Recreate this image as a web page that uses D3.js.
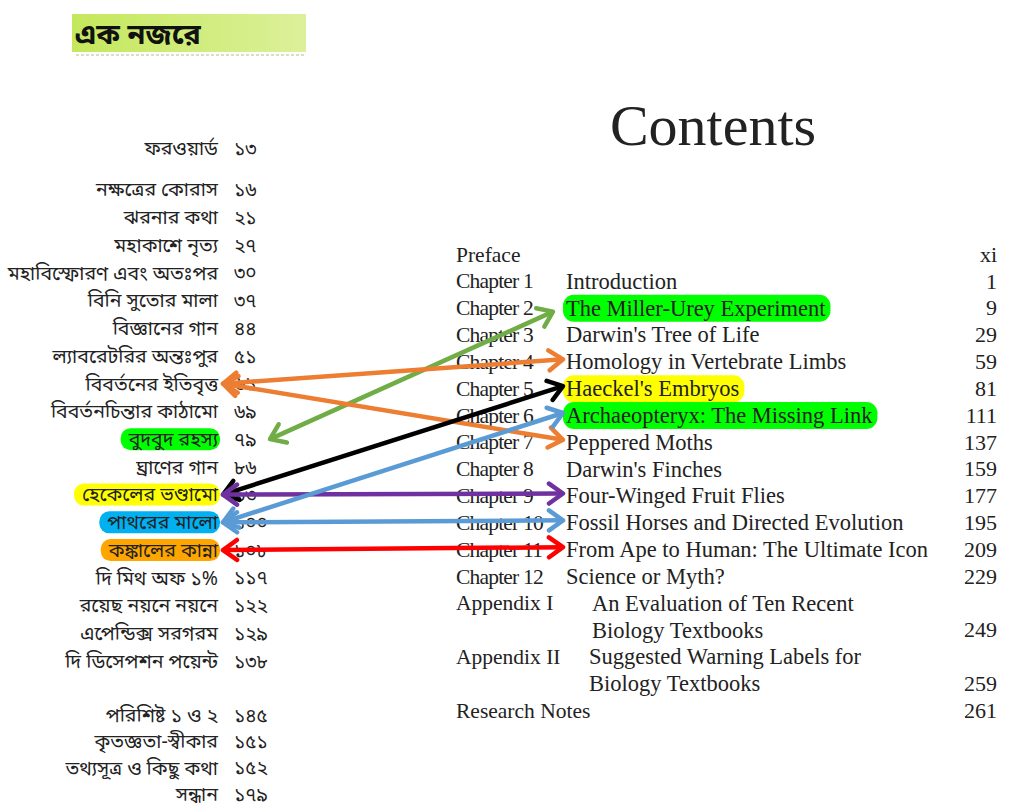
<!DOCTYPE html>
<html>
<head>
<meta charset="utf-8">
<script src="https://cdn.jsdelivr.net/npm/d3@7"></script>
<style>
  body { margin: 0; background: #fff; }
  svg { display: block; }
  .bn { font-family: "Noto Sans Bengali", "Lohit Bengali", "FreeSans", "Noto Sans", sans-serif; }
  .en { font-family: "Liberation Serif", "Times New Roman", serif; }
</style>
</head>
<body>
<svg id="chart" width="1024" height="809"></svg>
<script>
// --- DATOS ---
// Bengali table of contents (slot = row position, gaps between groups)
const leftTitles = [
  "ফরওয়ার্ড", "নক্ষত্রের কোরাস", "ঝরনার কথা", "মহাকাশে নৃত্য", "মহাবিস্ফোরণ এবং অতঃপর",
  "বিনি সুতোর মালা", "বিজ্ঞানের গান", "ল্যাবরেটরির অন্তঃপুর", "বিবর্তনের ইতিবৃত্ত",
  "বিবর্তনচিন্তার কাঠামো", "বুদবুদ রহস্য", "ঘ্রাণের গান", "হেকেলের ভণ্ডামো", "পাথরের মালো",
  "কঙ্কালের কান্না", "দি মিথ অফ ১%", "রয়েছ নয়নে নয়নে", "এপেন্ডিক্স সরগরম",
  "দি ডিসেপশন পয়েন্ট", "পরিশিষ্ট ১ ও ২", "কৃতজ্ঞতা-স্বীকার", "তথ্যসূত্র ও কিছু কথা", "সন্ধান"
];
const leftPages = [
  "১৩", "১৬", "২১", "২৭", "৩০", "৩৭", "৪৪", "৫১", "৬১", "৬৯", "৭৯", "৮৬", "৯৩", "১০০",
  "১০৮", "১১৭", "১২২", "১২৯", "১৩৮", "১৪৫", "১৫১", "১৫২", "১৭৯"
];
const leftSlots = [0, 1.5, 2.5, 3.5, 4.5, 5.5, 6.5, 7.5, 8.5, 9.5, 10.5, 11.5, 12.5, 13.5,
  14.5, 15.5, 16.5, 17.5, 18.5, 20.45, 21.4, 22.35, 23.3];
const leftHighlight = { 10: "#00ff00", 12: "#ffff00", 13: "#00b0f0", 14: "#ffa500" };

// English contents (one entry per printed line)
const rightLabels = ["Preface", "Chapter 1", "Chapter 2", "Chapter 3", "Chapter 4", "Chapter 5",
  "Chapter 6", "Chapter 7", "Chapter 8", "Chapter 9", "Chapter 10", "Chapter 11", "Chapter 12",
  "Appendix I", "", "Appendix II", "", "Research Notes"];
const rightTitles = ["", "Introduction", "The Miller-Urey Experiment", "Darwin's Tree of Life",
  "Homology in Vertebrate Limbs", "Haeckel's Embryos", "Archaeopteryx: The Missing Link",
  "Peppered Moths", "Darwin's Finches", "Four-Winged Fruit Flies",
  "Fossil Horses and Directed Evolution", "From Ape to Human: The Ultimate Icon",
  "Science or Myth?", "An Evaluation of Ten Recent", "Biology Textbooks",
  "Suggested Warning Labels for", "Biology Textbooks", ""];
const rightPages = ["xi", "1", "9", "29", "59", "81", "111", "137", "159", "177", "195", "209",
  "229", "", "249", "", "259", "261"];
const rightHighlight = { 2: "#00ff00", 5: "#ffff00", 6: "#00ff00" };

// Connections: left row index -> right row index
const links = [
  { from: 10, to: 2,  color: "#70ad47", end: "page" },
  { from: 8,  to: 4,  color: "#ed7d31", end: "title" },
  { from: 8,  to: 7,  color: "#ed7d31", end: "title" },
  { from: 12, to: 5,  color: "#000000", end: "title" },
  { from: 12, to: 9,  color: "#7030a0", end: "title" },
  { from: 13, to: 6,  color: "#5b9bd5", end: "title" },
  { from: 13, to: 10, color: "#5b9bd5", end: "title" },
  { from: 14, to: 11, color: "#ff0000", end: "title" }
];

// --- ESCALAS ---
const svg = d3.select("#chart");
const yLeft  = d3.scaleLinear().domain([0, 18.5]).range([148, 661]);
const yRight = d3.scaleLinear().domain([0, 12]).range([254, 576]);
const xLeftTitle = 218, xLeftPage = 234;
const xLabel = 456, xTitle = 566, xPage = 997;

// --- ENCABEZADO ---
const hdr = svg.append("defs").append("linearGradient").attr("id", "hdrGrad");
hdr.append("stop").attr("offset", "0%").attr("stop-color", "#c4e85c");
hdr.append("stop").attr("offset", "100%").attr("stop-color", "#dcf09a");
svg.append("rect").attr("x", 72).attr("y", 14).attr("width", 234).attr("height", 38)
  .attr("fill", "url(#hdrGrad)");
svg.append("line").attr("x1", 76).attr("x2", 306).attr("y1", 55).attr("y2", 55)
  .attr("stroke", "#c8d8a8").attr("stroke-width", 1.5).attr("stroke-dasharray", "3,2");
svg.append("text").attr("class", "bn").attr("x", 75).attr("y", 44)
  .style("font-size", "29px").style("font-weight", "700").attr("fill", "#111")
  .text("এক নজরে");

svg.append("text").attr("class", "en").attr("x", 713).attr("y", 145)
  .attr("text-anchor", "middle").style("font-size", "58px").attr("fill", "#222")
  .text("Contents");

// --- COLUMNA IZQUIERDA ---
const leftG = svg.append("g");
leftTitles.forEach((t, i) => {
  const y = yLeft(leftSlots[i]);
  const txt = leftG.append("text").attr("class", "bn")
    .attr("x", xLeftTitle).attr("y", y).attr("dy", "0.35em")
    .attr("text-anchor", "end").style("font-size", "19.5px").attr("fill", "#222").text(t);
  if (leftHighlight[i]) {
    const w = txt.node().getComputedTextLength();
    leftG.insert("rect", "text")
      .attr("x", xLeftTitle - w - 8).attr("y", y - 11)
      .attr("width", w + 10).attr("height", 22).attr("rx", 10)
      .attr("fill", leftHighlight[i]);
  }
  leftG.append("text").attr("class", "bn")
    .attr("x", xLeftPage).attr("y", y).attr("dy", "0.35em")
    .style("font-size", "19px").attr("fill", "#222").text(leftPages[i]);
});

// --- COLUMNA DERECHA ---
const rightG = svg.append("g").attr("class", "en").attr("fill", "#222");
rightLabels.forEach((lab, i) => {
  const y = yRight(i);
  const isApp = i >= 13 && i <= 16;
  const tx = isApp ? (i <= 14 ? 592 : 589) : xTitle;
  if (lab) rightG.append("text").attr("x", xLabel).attr("y", y).attr("dy", "0.35em")
    .style("font-size", "21.5px")
    .style("letter-spacing", lab.startsWith("Chapter") ? "-0.8px" : "0px").text(lab);
  if (rightTitles[i]) {
    const txt = rightG.append("text").attr("x", tx).attr("y", y).attr("dy", "0.35em")
      .style("font-size", "22.5px").text(rightTitles[i]);
    if (rightHighlight[i]) {
      const w = txt.node().getComputedTextLength();
      rightG.insert("rect", "text")
        .attr("x", tx - 3).attr("y", y - 13)
        .attr("width", w + 8).attr("height", 27).attr("rx", 11)
        .attr("fill", rightHighlight[i]);
    }
  }
  if (rightPages[i]) rightG.append("text").attr("x", xPage).attr("y", y).attr("dy", "0.35em")
    .attr("text-anchor", "end").style("font-size", "22px").text(rightPages[i]);
});

// --- FLECHAS ---
const defs = svg.select("defs");
const colors = [...new Set(links.map(l => l.color))];
colors.forEach((c, k) => {
  defs.append("marker")
    .attr("id", "arr" + k)
    .attr("markerUnits", "userSpaceOnUse")
    .attr("viewBox", "-3 -13 22 26")
    .attr("refX", 14).attr("refY", 0)
    .attr("markerWidth", 22).attr("markerHeight", 26)
    .attr("orient", "auto-start-reverse")
    .append("path")
    .attr("d", "M0,-10 L14,0 L0,10")
    .attr("fill", "none").attr("stroke", c)
    .attr("stroke-width", 4.5).attr("stroke-linecap", "round").attr("stroke-linejoin", "round");
});

const arrowG = svg.append("g");
links.forEach(l => {
  const k = colors.indexOf(l.color);
  const x1 = l.end === "page" ? 270 : 223;
  arrowG.append("line")
    .attr("x1", x1).attr("y1", yLeft(leftSlots[l.from]))
    .attr("x2", l.end === "page" ? 553 : 563).attr("y2", yRight(l.to) + (l.end === "page" ? 4 : -2))
    .attr("stroke", l.color).attr("stroke-width", 4.5)
    .attr("marker-start", `url(#arr${k})`).attr("marker-end", `url(#arr${k})`);
});
</script>
</body>
</html>
